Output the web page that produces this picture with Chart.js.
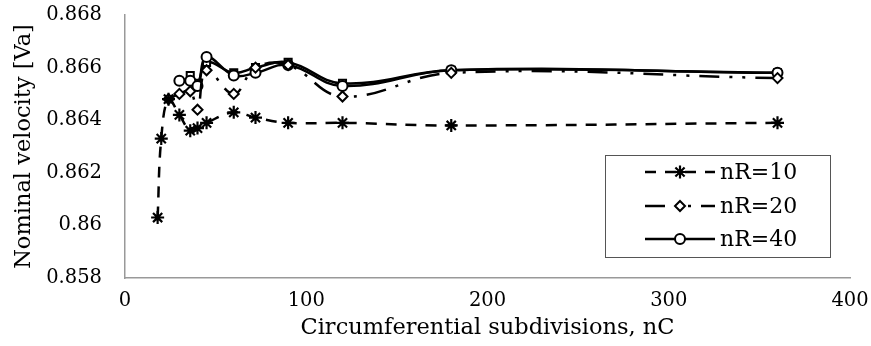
<!DOCTYPE html>
<html>
<head>
<meta charset="utf-8">
<script src="https://cdn.jsdelivr.net/npm/chart.js@4.4.0/dist/chart.umd.min.js"></script>
<style>
  html, body { margin: 0; padding: 0; background: #fff; }
  #wrap { width: 871px; height: 346px; }
</style>
</head>
<body>
<div id="wrap"><canvas id="chart" width="871" height="346"></canvas></div>
<script>
// Circumferential subdivisions (x)
const nC10 = [18, 20, 24, 30, 36, 40, 45, 60, 72, 90, 120, 180, 360];
const nC20 = [24, 30, 36, 40, 45, 60, 72, 90, 120, 180, 360];
const nC40 = [30, 36, 40, 45, 60, 72, 90, 120, 180, 360];
const nCsq = [36, 40, 45, 60, 72, 90, 120, 180, 360];

// Nominal velocity values
const nR10 = [0.8603, 0.8633, 0.8648, 0.8642, 0.8636, 0.8637, 0.8639, 0.8643, 0.8641, 0.8639, 0.8639, 0.8638, 0.8639];
const nR20 = [0.8648, 0.8650, 0.8651, 0.8644, 0.8659, 0.8650, 0.8660, 0.8661, 0.8649, 0.8658, 0.8656];
const nR40 = [0.8655, 0.8655, 0.8653, 0.8664, 0.8657, 0.8658, 0.8661, 0.8653, 0.8659, 0.8658];
const nRsq = [0.8657, 0.8654, 0.8662, 0.8658, 0.8660, 0.8662, 0.8654, 0.8659, 0.8658];

const seriesNames = ['nR=10', 'nR=20', 'nR=40'];
const xTicks = [0, 100, 200, 300, 400];
const yTicks = [0.858, 0.86, 0.862, 0.864, 0.866, 0.868];

const FONT = '"DejaVu Serif", serif';

function pts(xs, ys) {
  return xs.map((x, i) => ({ x: x, y: ys[i] }));
}

// draws a marker for the legend samples
function drawMarker(ctx, style, x, y) {
  ctx.save();
  ctx.setLineDash([]);
  ctx.strokeStyle = '#000';
  ctx.fillStyle = '#fff';
  ctx.lineWidth = 2;
  if (style === 'star') {
    const r = 6.5;
    ctx.lineWidth = 2.2;
    ctx.beginPath();
    for (let k = 0; k < 4; k++) {
      const a = k * Math.PI / 4;
      ctx.moveTo(x - r * Math.sin(a), y - r * Math.cos(a));
      ctx.lineTo(x + r * Math.sin(a), y + r * Math.cos(a));
    }
    ctx.stroke();
  } else if (style === 'rectRot') {
    const r = 5;
    ctx.beginPath();
    ctx.moveTo(x, y - r); ctx.lineTo(x + r, y); ctx.lineTo(x, y + r); ctx.lineTo(x - r, y);
    ctx.closePath(); ctx.fill(); ctx.stroke();
  } else if (style === 'circle') {
    ctx.beginPath();
    ctx.arc(x, y, 5, 0, Math.PI * 2);
    ctx.fill(); ctx.stroke();
  }
  ctx.restore();
}

const legendBox = {
  id: 'legendBox',
  afterDraw(chart) {
    const ctx = chart.ctx;
    const a = chart.chartArea;
    const left = a.right - 245, top = a.top + 140, w = 225, h = 102;
    ctx.save();
    ctx.fillStyle = '#fff';
    ctx.fillRect(left, top, w, h);
    ctx.strokeStyle = '#555';
    ctx.lineWidth = 1;
    ctx.strokeRect(left + 0.5, top + 0.5, w, h);
    const rows = [top + 17, top + 51, top + 84];
    const styles = ['star', 'rectRot', 'circle'];
    chart.data.datasets.slice(0, 3).forEach((ds, i) => {
      const y = rows[i];
      ctx.beginPath();
      ctx.setLineDash(ds.borderDash || []);
      ctx.lineWidth = ds.borderWidth;
      ctx.strokeStyle = '#000';
      ctx.moveTo(left + 40, y);
      ctx.lineTo(left + 110, y);
      ctx.stroke();
      drawMarker(ctx, styles[i], left + 75, y);
      ctx.setLineDash([]);
      ctx.fillStyle = '#000';
      ctx.font = '22px ' + FONT;
      ctx.textBaseline = 'middle';
      ctx.fillText(seriesNames[i], left + 115, y + 1);
    });
    ctx.restore();
  }
};

const ctx = document.getElementById('chart').getContext('2d');
const chart = new Chart(ctx, {
  type: 'line',
  data: {
    datasets: [
      {
        label: seriesNames[0],
        data: pts(nC10, nR10),
        borderColor: '#000', borderWidth: 2.5, borderDash: [11, 9],
        pointStyle: 'star', pointRadius: 6.5, pointBorderWidth: 2.2,
        pointBorderColor: '#000', pointBackgroundColor: '#fff',
        tension: 0.4
      },
      {
        label: seriesNames[1],
        data: pts(nC20, nR20),
        borderColor: '#000', borderWidth: 2.5, borderDash: [20, 10, 3, 10, 3, 10],
        pointStyle: 'rectRot', pointRadius: 5, pointBorderWidth: 2,
        pointBorderColor: '#000', pointBackgroundColor: '#fff',
        tension: 0.4
      },
      {
        label: seriesNames[2],
        data: pts(nC40, nR40),
        borderColor: '#000', borderWidth: 2.5,
        pointStyle: 'circle', pointRadius: 5, pointBorderWidth: 2,
        pointBorderColor: '#000', pointBackgroundColor: '#fff',
        tension: 0.4
      },
      {
        label: 'sq',
        data: pts(nCsq, nRsq),
        borderColor: '#000', borderWidth: 2.5,
        pointStyle: 'rect', pointRadius: 5, pointBorderWidth: 2,
        pointBorderColor: '#000', pointBackgroundColor: '#fff',
        tension: 0.4
      }
    ]
  },
  options: {
    responsive: false,
    animation: false,
    layout: { padding: { top: 15, right: 21, left: 0, bottom: 0 } },
    plugins: { legend: { display: false }, tooltip: { enabled: false } },
    scales: {
      x: {
        type: 'linear', min: 0, max: 400,
        afterBuildTicks: (s) => { s.ticks = xTicks.map(v => ({ value: v })); },
        grid: { display: false, drawTicks: false },
        border: { display: true, color: '#999', width: 1.5 },
        ticks: { color: '#000', font: { family: FONT, size: 19.5 }, padding: 11, maxRotation: 0 },
        title: { display: true, text: 'Circumferential subdivisions, nC', color: '#000',
                 font: { family: FONT, size: 22.5 }, padding: { top: 0, bottom: 4 } },
        afterFit: (s) => { s.height = 68; s.paddingLeft = 0; s.paddingRight = 0; }
      },
      y: {
        min: 0.858, max: 0.868,
        afterBuildTicks: (s) => { s.ticks = yTicks.map(v => ({ value: v })); },
        grid: { display: false, drawTicks: false },
        border: { display: true, color: '#999', width: 1.5 },
        ticks: { color: '#000', font: { family: FONT, size: 19.5 }, padding: 23,
                 callback: (v) => String(Number(v.toFixed(3))) },
        title: { display: true, text: 'Nominal velocity [Va]', color: '#000',
                 font: { family: FONT, size: 22.5 }, padding: { top: 11, bottom: 0 } },
        afterFit: (s) => { s.width = 125; s.paddingTop = 0; s.paddingBottom = 0; }
      }
    }
  },
  plugins: [legendBox]
});
</script>
</body>
</html>
